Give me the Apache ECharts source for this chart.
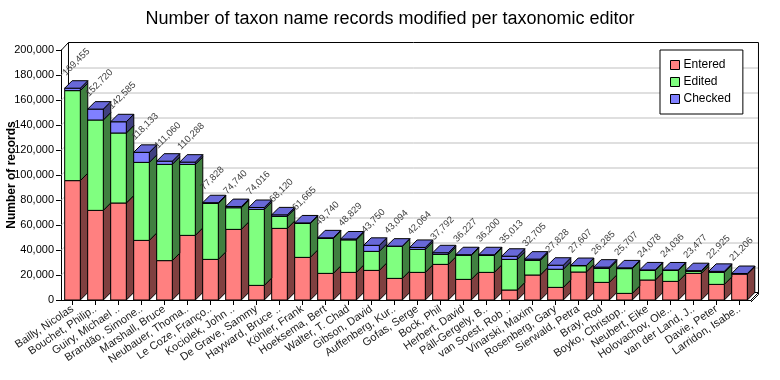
<!DOCTYPE html>
<html><head><meta charset="utf-8">
<script src="https://cdn.jsdelivr.net/npm/echarts@6/dist/echarts.min.js"></script>
<style>html,body{margin:0;padding:0;background:#fff}#c{width:780px;height:380px}</style>
</head><body><div id="c"></div>
<script>
const editors = ["Bailly, Nicolas","Bouchet, Philip..","Guiry, Michael ..","Brandão, Simone..","Marshall, Bruce","Neubauer, Thoma..","Le Coze, Franço..","Kociolek, John ..","De Grave, Sammy","Hayward, Bruce ..","Köhler, Frank","Hoeksema, Bert","Walter, T. Chad","Gibson, David","Auffenberg, Kur..","Gofas, Serge","Bock, Phil","Herbert, David","Páll-Gergely, B..","van Soest, Rob ..","Vinarski, Maxim","Rosenberg, Gary","Sierwald, Petra","Bray, Rod","Boyko, Christop..","Neubert, Eike","Holovachov, Ole..","van der Land, J..","Davie, Peter","Larridon, Isabe.."];
const entered = [95500,71700,77600,47700,31500,51700,32500,56500,11700,57300,34100,21300,22100,23700,17300,22100,28500,16500,22100,8000,20000,10100,22400,14100,5300,16000,14900,21300,12500,20700];
const edited  = [72000,72300,56000,62400,77000,56800,44800,17300,60800,9600,27100,28000,26000,15200,25600,18400,8000,19300,13600,24500,11700,14500,5000,11200,19800,7700,8800,1600,9600,0];
const checked = [1955,8720,8985,8033,2560,1788,528,940,1516,1220,465,440,729,4850,194,1564,1292,427,500,2513,1005,3228,207,985,607,378,336,577,825,506];
const totals  = [169455,152720,142585,118133,111060,110288,77828,74740,74016,68120,61665,49740,48829,43750,43094,42064,37792,36227,36200,35013,32705,27828,27607,26285,25707,24078,24036,23477,22925,21206];
const yTicks  = [0,20000,40000,60000,80000,100000,120000,140000,160000,180000,200000];

const FONT = "'Liberation Sans', Arial, sans-serif";
const fmt = v => v.toLocaleString('en-US');

const segs = [
  {name:'Entered', vals: entered, front:'#FF8080', side:'#804040', top:'#D06868'},
  {name:'Edited',  vals: edited,  front:'#80FF80', side:'#408040', top:'#68D068'},
  {name:'Checked', vals: checked, front:'#8080FF', side:'#404080', top:'#6868D8'}
];

function segData(k){
  return editors.map((_, i) => {
    let base = 0;
    for (let j = 0; j < k; j++) base += segs[j].vals[i];
    return [i, base, base + segs[k].vals[i]];
  });
}

function makeRender(seg, isTop){
  return function(params, api){
    const i = api.value(0), lo = api.value(1), hi = api.value(2);
    const slot = api.size([1,0])[0];
    const w = slot * 0.68, d = slot * 0.325;
    const pLo = api.coord([i, lo]), pHi = api.coord([i, hi]);
    const x0 = pLo[0] - w/2, x1 = pLo[0] + w/2;
    const yb = pLo[1], yt = pHi[1];
    const children = [];
    const line = {stroke:'#000', lineWidth:1};
    if (hi > lo) {
      children.push({type:'polygon', shape:{points:[[x1,yb],[x1+d,yb-d],[x1+d,yt-d],[x1,yt]]}, style:Object.assign({fill:seg.side}, line)});
      children.push({type:'rect', shape:{x:x0, y:yt, width:w, height:yb-yt}, style:Object.assign({fill:seg.front}, line)});
    }
    if (isTop) {
      children.push({type:'polygon', shape:{points:[[x0,yt],[x1,yt],[x1+d,yt-d],[x0+d,yt-d]]}, style:Object.assign({fill:seg.top}, line)});
      children.push({type:'text', x:x0+3, y:yt-d-3, rotation:Math.PI/4,
        style:{text:fmt(totals[i]), fill:'#404040', font:'9.5px '+FONT, align:'left', verticalAlign:'bottom'}});
    }
    return {type:'group', children};
  };
}

function renderWall(params, api){
  const cs = params.coordSys;
  const slot = api.size([1,0])[0];
  const d = slot * 0.325;
  const xl = cs.x, xr = cs.x + cs.width;
  const ch = [];
  const grey = {stroke:'#C0C0C0', lineWidth:1};
  const blk = {stroke:'#000', lineWidth:1};
  const yTop = api.coord([0, yTicks[yTicks.length-1]])[1];
  const yBot = api.coord([0, yTicks[0]])[1];
  ch.push({type:'polygon', shape:{points:[[xl+d,yTop-d],[xr+d,yTop-d],[xr+d,yBot-d],[xl+d,yBot-d]]}, style:{fill:'#fff'}});
  yTicks.forEach((v, k) => {
    if (k === 0 || k === yTicks.length-1) return;
    const y = Math.round(api.coord([0, v])[1]) + 0.5;
    ch.push({type:'line', shape:{x1:xl, y1:y, x2:xl+d, y2:y-d}, style:grey});
    ch.push({type:'line', shape:{x1:xl+d, y1:y-d, x2:xr+d, y2:y-d}, style:grey});
  });
  ch.push({type:'line', shape:{x1:xl+0.5, y1:yTop, x2:xl+d, y2:yTop-d}, style:blk});
  ch.push({type:'line', shape:{x1:xl+d, y1:yTop-d, x2:xr+d, y2:yTop-d}, style:blk});
  ch.push({type:'line', shape:{x1:xl+d, y1:yTop-d, x2:xl+d, y2:yBot-d}, style:blk});
  ch.push({type:'line', shape:{x1:xr+d, y1:yTop-d, x2:xr+d, y2:yBot-d}, style:blk});
  ch.push({type:'line', shape:{x1:xl+d, y1:yBot-d, x2:xr+d, y2:yBot-d}, style:blk});
  ch.push({type:'line', shape:{x1:xr, y1:yBot, x2:xr+d, y2:yBot-d}, style:blk});
  ch.push({type:'line', shape:{x1:xr, y1:yBot+2, x2:xr+d, y2:yBot-d+2}, style:blk});
  ch.push({type:'line', shape:{x1:xr+d, y1:yBot-d, x2:xr+d, y2:yBot-d+2}, style:blk});
  return {type:'group', children:ch};
}

const chart = echarts.init(document.getElementById('c'), null, {renderer:'canvas'});
const series = [{
  type:'custom', name:'wall', silent:true, z:1, data:[[0, 0, 0]],
  encode:{x:0, y:2}, renderItem:renderWall
}];
segs.forEach((s, k) => {
  series.push({
    type:'custom', name:s.name, z:2+k, data:segData(k), encode:{x:0, y:[1,2]},
    itemStyle:{color:s.front}, renderItem:makeRender(s, k === segs.length-1)
  });
});

chart.setOption({
  animation:false,
  backgroundColor:'#fff',
  textStyle:{fontFamily:FONT},
  title:{text:'Number of taxon name records modified per taxonomic editor', left:'center', top:5,
    textStyle:{fontSize:18, fontWeight:'normal', color:'#000', fontFamily:FONT}},
  legend:{orient:'vertical', left:660, top:50, selectedMode:false, backgroundColor:'#fff',
    borderColor:'#000', borderWidth:1, borderRadius:0, padding:[9,12,9,10], itemGap:5,
    itemWidth:9, itemHeight:9, icon:'rect',
    textStyle:{fontSize:12, color:'#000', fontFamily:FONT, padding:[0,0,0,-1]},
    data:segs.map(s => ({name:s.name, icon:'rect', itemStyle:{color:s.front, borderColor:'#000', borderWidth:1}}))},
  grid:{left:61, right:29, top:50, bottom:80, containLabel:false, outerBoundsMode:'none'},
  xAxis:{type:'category', data:editors, boundaryGap:true,
    axisLine:{show:true, lineStyle:{color:'#000', width:1}},
    axisTick:{show:true, alignWithLabel:true, length:5, lineStyle:{color:'#000'}},
    axisLabel:{interval:0, rotate:34, margin:8, fontSize:11, color:'#222', fontFamily:FONT, hideOverlap:false},
    splitLine:{show:false}},
  yAxis:{type:'value', min:yTicks[0], max:yTicks[yTicks.length-1], interval:yTicks[1]-yTicks[0],
    name:'Number of records', nameLocation:'middle', nameGap:43, nameMoveOverlap:false,
    nameTextStyle:{fontSize:12, fontWeight:'bold', color:'#000', fontFamily:FONT},
    axisLine:{show:true, lineStyle:{color:'#000', width:1}},
    axisTick:{show:true, length:5, lineStyle:{color:'#000'}},
    axisLabel:{fontSize:11, color:'#000', margin:7, fontFamily:FONT, formatter:v => fmt(v)},
    splitLine:{show:false}},
  series
});
</script></body></html>
